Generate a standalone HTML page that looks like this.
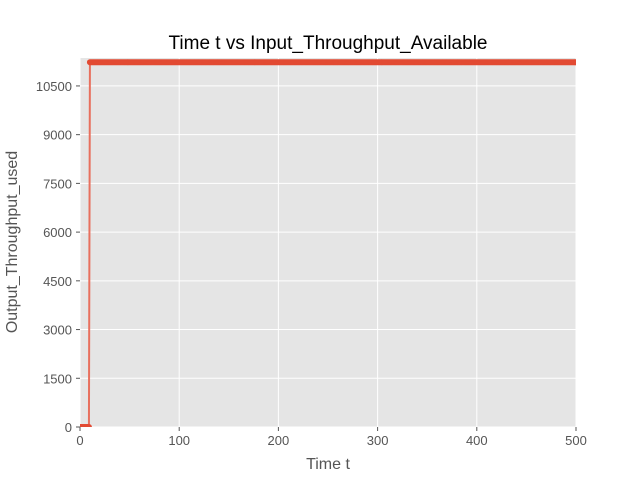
<!DOCTYPE html>
<html><head><meta charset="utf-8"><style>
body{margin:0;background:#fff;font-family:"Liberation Sans","DejaVu Sans",sans-serif;}
</style></head><body>
<svg width="640" height="480" xmlns="http://www.w3.org/2000/svg">
<defs><clipPath id="clip"><rect x="80" y="58" width="496" height="369"/></clipPath></defs>
<rect width="640" height="480" fill="#fff"/>
<rect x="80" y="58" width="496" height="369" fill="#E5E5E5"/>
<g id="grid"></g><g id="ticks"></g><g id="series" clip-path="url(#clip)"></g>
<text x="328" y="49" font-size="19" text-anchor="middle" fill="#000">Time t vs Input_Throughput_Available</text>
<text x="328" y="469" font-size="16" text-anchor="middle" fill="#555">Time t</text>
<text transform="translate(17,242) rotate(-90)" font-size="16" text-anchor="middle" fill="#555">Output_Throughput_used</text>
</svg>
<script>
const xTicks=[0,100,200,300,400,500];
const yTicks=[0,1500,3000,4500,6000,7500,9000,10500];
const switchTime=10;
const lowValue=0;
const highValue=11230;
const tEnd=500;
const X0=80,X1=576,Y0=427,Y1=58,xmax=500,ymax=11360;
const xs=v=>X0+(v/xmax)*(X1-X0);
const ys=v=>Y0-(v/ymax)*(Y0-Y1);
const NS="http://www.w3.org/2000/svg";
function mk(tag,attrs,parent){const e=document.createElementNS(NS,tag);for(const k in attrs)e.setAttribute(k,attrs[k]);document.getElementById(parent).appendChild(e);return e;}
xTicks.forEach(t=>{
 const g=mk('line',{x1:xs(t),x2:xs(t),y1:Y1,y2:Y0,stroke:'#fff','stroke-width':1},'grid');
 
 
 mk('line',{x1:xs(t),x2:xs(t),y1:Y0,y2:Y0+4,stroke:'#555'},'ticks');
 const tx=mk('text',{x:xs(t),y:Y0+18,'font-size':13,'text-anchor':'middle',fill:'#555'},'ticks');
 tx.textContent=t;
 
 
});
yTicks.forEach(t=>{
 const g=mk('line',{x1:X0,x2:X1,y1:ys(t),y2:ys(t),stroke:'#fff','stroke-width':1},'grid');
 
 
 mk('line',{x1:X0-4,x2:X0,y1:ys(t),y2:ys(t),stroke:'#555'},'ticks');
 const tx=mk('text',{x:X0-8,y:ys(t)+5,'font-size':13,'text-anchor':'end',fill:'#555'},'ticks');
 tx.textContent=t;
 
 
});
const pts=[];
for(let t=0;t<=tEnd;t++)pts.push([t,t<switchTime?lowValue:highValue]);
const line=mk('polyline',{points:pts.map(p=>xs(p[0])+','+ys(p[1])).join(' '),fill:'none',stroke:'#E8705E','stroke-width':2},'series');


pts.forEach(p=>{
 const c=mk('circle',{cx:xs(p[0]),cy:ys(p[1]),r:3,fill:'#E24A33'},'series');
 
 
});
</script>
</body></html>
